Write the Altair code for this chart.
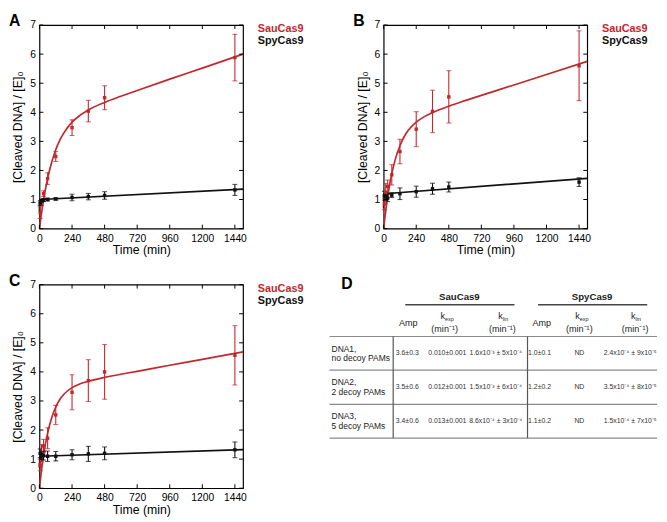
import altair as alt
import pandas as pd

FONT = "Liberation Sans"
RED = "#c0282d"
BLACK = "#111111"

times = [5, 15, 30, 60, 120, 240, 360, 480, 1440]

sau_A = [0.55, 0.90, 1.20, 1.72, 2.48, 3.47, 4.04, 4.50, 5.88]
sau_A_err = [0.20, 0.10, 0.10, 0.20, 0.17, 0.27, 0.37, 0.41, 0.80]
spy_A = [0.88, 0.95, 0.98, 1.00, 1.02, 1.07, 1.10, 1.14, 1.33]
spy_A_err = [0.08, 0.06, 0.05, 0.05, 0.04, 0.11, 0.11, 0.13, 0.19]

sau_B = [0.85, 1.25, 1.45, 1.85, 2.65, 3.42, 4.03, 4.53, 5.60]
sau_B_err = [0.20, 0.30, 0.22, 0.35, 0.42, 0.60, 0.73, 0.90, 1.20]
spy_B = [1.13, 1.10, 1.05, 1.15, 1.20, 1.27, 1.37, 1.43, 1.60]
spy_B_err = [0.15, 0.12, 0.12, 0.08, 0.20, 0.19, 0.19, 0.17, 0.15]

sau_C = [0.80, 1.20, 1.45, 1.72, 2.52, 3.30, 3.70, 4.00, 4.57]
sau_C_err = [0.20, 0.30, 0.23, 0.36, 0.33, 0.60, 0.72, 0.94, 1.02]
spy_C = [1.20, 1.15, 1.12, 1.10, 1.10, 1.15, 1.18, 1.20, 1.32]
spy_C_err = [0.15, 0.12, 0.15, 0.18, 0.16, 0.17, 0.26, 0.22, 0.27]

# fitted curves
fit_t = [0, 5, 10, 20, 30, 45, 60, 90, 120, 150, 180, 240, 300, 360, 480, 600, 720, 960, 1200, 1500]
sau_fit_A = [0, 0.18, 0.36, 0.69, 0.98, 1.38, 1.72, 2.28, 2.71, 3.04, 3.29, 3.66, 3.90, 4.08, 4.34, 4.55, 4.75, 5.14, 5.52, 6.00]
sau_fit_B = [0, 0.21, 0.41, 0.78, 1.10, 1.53, 1.89, 2.45, 2.85, 3.15, 3.37, 3.66, 3.85, 3.99, 4.21, 4.40, 4.58, 4.94, 5.30, 5.75]
sau_fit_C = [0, 0.22, 0.42, 0.80, 1.12, 1.55, 1.89, 2.42, 2.79, 3.05, 3.23, 3.46, 3.59, 3.68, 3.81, 3.92, 4.02, 4.23, 4.43, 4.69]
spy_fit_t = [0, 2, 5, 10, 1500]
spy_fit_A = [0.60, 0.90, 0.98, 1.00, 1.36]
spy_fit_B = [0.70, 1.05, 1.18, 1.20, 1.73]
spy_fit_C = [0.70, 1.00, 1.08, 1.10, 1.33]

x_ticks = [0, 240, 480, 720, 960, 1200, 1440]
y_ticks = [0, 1, 2, 3, 4, 5, 6, 7]
enzymes = ["SauCas9", "SpyCas9"]

# ---------------- table D ----------------
table_groups = ["SauCas9", "SpyCas9"]
table_columns = ["Amp", "k", "k", "Amp", "k", "k"]
column_subs = ["", "exp", "lin", "", "exp", "lin"]
column_units = ["", "(min⁻¹)", "(min⁻¹)", "", "(min⁻¹)", "(min⁻¹)"]
row_names = ["DNA1,", "DNA2,", "DNA3,"]
row_details = ["no decoy PAMs", "2 decoy PAMs", "5 decoy PAMs"]
sau_amp = ["3.6±0.3", "3.5±0.6", "3.4±0.6"]
sau_kexp = ["0.010±0.001", "0.012±0.001", "0.013±0.001"]
sau_klin = ["1.6x10⁻³ ± 5x10⁻⁴", "1.5x10⁻³ ± 6x10⁻⁴", "8.6x10⁻⁴ ± 3x10⁻⁴"]
spy_amp = ["1.0±0.1", "1.2±0.2", "1.1±0.2"]
spy_kexp = ["ND", "ND", "ND"]
spy_klin = ["2.4x10⁻⁴ ± 9x10⁻⁵", "3.5x10⁻⁴ ± 8x10⁻⁵", "1.5x10⁻⁴ ± 7x10⁻⁵"]

W = H = 207
COL_GAP = 143

# table layout (pixels in the table's own frame; that frame starts 55px left of the cell)
T_OFF = -55
TW, TH = 333, 160
group_x = [132, 267]
group_line = [(77, 188), (212, 323)]
header_x = [80, 117, 175.7, 215.7, 254, 310.7]
value_x = [79, 119.7, 169, 213.5, 254, 305.7]
row_y = [70, 104.3, 139]
hline_y = [52.7, 87, 121.7, 156]
vline_x = [64.7, 201.3]

xs = alt.Scale(domain=[0, 1500], nice=False, zero=False)
ys = alt.Scale(domain=[0, 7], nice=False, zero=False)
color = alt.Color("enzyme:N", scale=alt.Scale(domain=enzymes, range=[RED, BLACK]), legend=None)

X_AXIS = alt.Axis(values=x_ticks, format="d", ticks=False, domain=False, grid=False,
                  labelFontSize=10.5, labelPadding=5, labelColor="black",
                  labelFont=FONT, labelFlush=False, labelOverlap=False,
                  titleFontSize=12.5, titleFontWeight="normal", titleColor="black",
                  titleFont=FONT, titlePadding=0)
Y_AXIS = alt.Axis(values=y_ticks, format="d", ticks=False, domain=False, grid=False,
                  labelFontSize=10.5, labelPadding=4, labelColor="black",
                  labelFont=FONT, labelFlush=False, labelOverlap=False,
                  titleFontSize=12.5, titleFontWeight="normal", titleColor="black",
                  titleFont=FONT, titlePadding=5)
X_TITLE = "Time (min)"
Y_TITLE = "[Cleaved DNA] / [E]₀"


def x_enc(field="t"):
    return alt.X(f"{field}:Q", scale=xs, title=X_TITLE, axis=X_AXIS)


def y_enc(field="v"):
    return alt.Y(f"{field}:Q", scale=ys, title=Y_TITLE, axis=Y_AXIS)


def panel(letter, sau, sau_err, spy, spy_err, sau_fit, spy_fit):
    n = len(times)
    vals = sau + spy
    errs = sau_err + spy_err
    pts = pd.DataFrame({
        "t": times + times,
        "v": vals,
        "lo": [a - b for a, b in zip(vals, errs)],
        "hi": [a + b for a, b in zip(vals, errs)],
        "enzyme": [enzymes[0]] * n + [enzymes[1]] * n,
    })
    sau_line = pd.DataFrame({"t": fit_t, "v": sau_fit, "enzyme": enzymes[0]})
    spy_line = pd.DataFrame({"t": spy_fit_t, "v": spy_fit, "enzyme": enzymes[1]})
    xt = pd.DataFrame({"t": x_ticks})
    yt = pd.DataFrame({"v": y_ticks})

    layers = [
        alt.Chart(sau_line).mark_line(strokeWidth=1.7, interpolate="monotone").encode(
            x=x_enc(), y=y_enc(), color=color),
        alt.Chart(spy_line).mark_line(strokeWidth=1.7, interpolate="linear").encode(
            x=x_enc(), y=y_enc(), color=color),
        alt.Chart(pts).mark_rule(strokeWidth=1.1).encode(
            x=x_enc(), y=y_enc("lo"), y2="hi:Q", color=color),
        alt.Chart(pts).mark_tick(orient="horizontal", size=5, thickness=1.1).encode(
            x=x_enc(), y=y_enc("lo"), color=color),
        alt.Chart(pts).mark_tick(orient="horizontal", size=5, thickness=1.1).encode(
            x=x_enc(), y=y_enc("hi"), color=color),
        alt.Chart(pts).mark_square(size=12, opacity=1).encode(
            x=x_enc(), y=y_enc(), color=color),
        # inward ticks on all four sides of the frame
        alt.Chart(xt).mark_rule(color="black", strokeWidth=1).encode(
            x=x_enc(), y=alt.value(H), y2=alt.value(H - 4)),
        alt.Chart(xt).mark_rule(color="black", strokeWidth=1).encode(
            x=x_enc(), y=alt.value(0), y2=alt.value(4)),
        alt.Chart(yt).mark_rule(color="black", strokeWidth=1).encode(
            y=y_enc(), x=alt.value(0), x2=alt.value(4)),
        alt.Chart(yt).mark_rule(color="black", strokeWidth=1).encode(
            y=y_enc(), x=alt.value(W - 4), x2=alt.value(W)),
        # panel letter and legend
        alt.Chart(pd.DataFrame({"s": [letter]})).mark_text(
            font=FONT, fontSize=16, fontWeight="bold", align="left", baseline="alphabetic",
            color="black").encode(x=alt.value(-31), y=alt.value(1), text="s:N"),
        alt.Chart(pd.DataFrame({"s": [enzymes[0]]})).mark_text(
            font=FONT, fontSize=11, fontWeight="bold", align="left", baseline="middle",
            color=RED).encode(x=alt.value(222), y=alt.value(4), text="s:N"),
        alt.Chart(pd.DataFrame({"s": [enzymes[1]]})).mark_text(
            font=FONT, fontSize=11, fontWeight="bold", align="left", baseline="middle",
            color=BLACK).encode(x=alt.value(222), y=alt.value(16.5), text="s:N"),
    ]
    return alt.layer(*layers).properties(width=W, height=H)


pA = panel("A", sau_A, sau_A_err, spy_A, spy_A_err, sau_fit_A, spy_fit_A)
pB = panel("B", sau_B, sau_B_err, spy_B, spy_B_err, sau_fit_B, spy_fit_B)
pC = panel("C", sau_C, sau_C_err, spy_C, spy_C_err, sau_fit_C, spy_fit_C)

# ---------------- build table chart ----------------
txs = alt.Scale(domain=[-T_OFF, W - T_OFF], range=[0, W], nice=False, zero=False)
tys = alt.Scale(domain=[0, H], range=[0, H], nice=False, zero=False)


def tx(f="x"):
    return alt.X(f"{f}:Q", scale=txs, axis=None)


def ty(f="y"):
    return alt.Y(f"{f}:Q", scale=tys, axis=None)


cells = []
value_cols = [sau_amp, sau_kexp, sau_klin, spy_amp, spy_kexp, spy_klin]
for ci, col in enumerate(value_cols):
    for ri, txt in enumerate(col):
        cells.append({"x": value_x[ci], "y": row_y[ri], "s": txt})
cells_df = pd.DataFrame(cells)

labels = []
for ri in range(len(row_names)):
    labels.append({"x": 2, "y": row_y[ri] - 5, "s": row_names[ri]})
    labels.append({"x": 2, "y": row_y[ri] + 5, "s": row_details[ri]})
labels_df = pd.DataFrame(labels)

heads, subs = [], []
for ci, name in enumerate(table_columns):
    if column_units[ci]:
        heads.append({"x": header_x[ci] - 2, "y": 32, "s": name})
        subs.append({"x": header_x[ci] + 0.5, "y": 35, "s": column_subs[ci]})
        heads.append({"x": header_x[ci], "y": 45, "s": column_units[ci]})
    else:
        heads.append({"x": header_x[ci], "y": 39, "s": name})
heads_df = pd.DataFrame(heads)
subs_df = pd.DataFrame(subs)

groups_df = pd.DataFrame({"x": group_x, "y": [13, 13], "s": table_groups})
glines_df = pd.DataFrame({"x": [a for a, b in group_line], "x2": [b for a, b in group_line],
                          "y": [20.5, 20.5]})
hl_df = pd.DataFrame({"y": hline_y, "x": [0] * len(hline_y), "x2": [TW] * len(hline_y)})
vl_df = pd.DataFrame({"x": vline_x, "y": [hline_y[0]] * 2, "y2": [hline_y[-1]] * 2})

table = alt.layer(
    alt.Chart(hl_df).mark_rule(color="#8a8a8a", strokeWidth=1.2).encode(
        y=ty(), x=tx(), x2="x2:Q"),
    alt.Chart(vl_df).mark_rule(color="#555555", strokeWidth=1.2).encode(
        x=tx(), y=ty(), y2="y2:Q"),
    alt.Chart(glines_df).mark_rule(color="#444444", strokeWidth=1.6).encode(
        x=tx(), x2="x2:Q", y=ty()),
    alt.Chart(groups_df).mark_text(font=FONT, fontSize=9.8, fontWeight="bold",
                                   baseline="middle", align="center", color="#222222").encode(
        x=tx(), y=ty(), text="s:N"),
    alt.Chart(heads_df).mark_text(font=FONT, fontSize=9.2, baseline="middle", align="center",
                                  color="#222222").encode(x=tx(), y=ty(), text="s:N"),
    alt.Chart(subs_df).mark_text(font=FONT, fontSize=5.5, baseline="middle", align="left",
                                 color="#222222").encode(x=tx(), y=ty(), text="s:N"),
    alt.Chart(labels_df).mark_text(font=FONT, fontSize=8.6, baseline="middle", align="left",
                                   color="#222222").encode(x=tx(), y=ty(), text="s:N"),
    alt.Chart(cells_df).mark_text(font=FONT, fontSize=7, baseline="middle", align="center",
                                  color="#333333").encode(x=tx(), y=ty(), text="s:N"),
    alt.Chart(pd.DataFrame({"s": ["D"], "x": [12], "y": [4]})).mark_text(
        font=FONT, fontSize=16, fontWeight="bold", align="left", baseline="alphabetic",
        color="black").encode(x=tx(), y=ty(), text="s:N"),
).properties(width=W, height=H, view=alt.ViewBackground(stroke="transparent"))

chart = alt.concat(
    pA, pB, pC, table, columns=2, bounds="flush",
    spacing={"row": 57, "column": COL_GAP},
).properties(
    padding={"left": 0, "top": 0, "right": 0, "bottom": 0}
).configure(font=FONT).configure_view(stroke="black", strokeWidth=1.2)

chart.save("out.html", embed_options={"renderer": "svg", "actions": False})
